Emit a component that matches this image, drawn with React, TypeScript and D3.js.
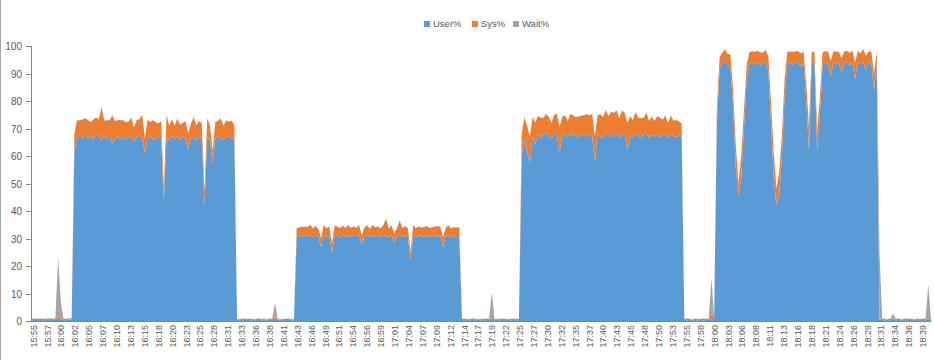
import React from "react";
import * as d3 from "d3";

const width = 934;
const height = 360;

const seriesKeys = ["user", "sys", "wait"];
const seriesNames = ["User%", "Sys%", "Wait%"];
const seriesColors = ["#5B9BD5", "#ED7D31", "#A5A5A5"];

const yTicks = [0, 10, 20, 30, 40, 50, 60, 70, 80, 90, 100];

const timeLabels = [
  "15:55", "15:57", "16:00", "16:02", "16:05", "16:07", "16:10", "16:13", "16:15", "16:18",
  "16:20", "16:23", "16:25", "16:28", "16:31", "16:33", "16:36", "16:38", "16:41", "16:43",
  "16:46", "16:49", "16:51", "16:54", "16:56", "16:59", "17:01", "17:04", "17:07", "17:09",
  "17:12", "17:14", "17:17", "17:19", "17:22", "17:25", "17:27", "17:30", "17:32", "17:35",
  "17:37", "17:40", "17:43", "17:45", "17:48", "17:50", "17:53", "17:55", "17:58", "18:00",
  "18:03", "18:06", "18:08", "18:11", "18:13", "18:16", "18:18", "18:21", "18:24", "18:26",
  "18:29", "18:31", "18:34", "18:36", "18:39",
];

// one sample every 30s, 15:55 -> 18:41
const userPct = [
  // idle
  0.4, 0.3, 0.5, 0.3, 0.4, 0.3, 0.6, 0.3, 0.4, 0.5, 1.0, 0.6, 0.4, 0.3, 0.5, 0.6,
  // run 1
  62.0, 66.8, 67.5, 66.2, 67.9, 66.4, 67.2, 65.8, 68.1, 66.9,
  65.7, 67.4, 66.1, 67.8, 64.2, 66.5, 67.3, 66.0, 67.6, 65.9,
  66.8, 67.1, 65.4, 66.9, 67.5, 66.2, 61.0, 66.7, 67.2, 65.8,
  66.4, 67.0, 66.3, 44.0, 66.9, 65.6, 67.4, 66.1, 66.8, 65.9,
  67.3, 66.2, 62.5, 66.7, 67.0, 65.8, 66.5, 67.2, 42.0, 66.9,
  65.7, 57.0, 66.4, 67.1, 66.3, 65.9, 66.8, 67.0, 66.2, 66.5,
  // idle
  0.3, 0.4, 0.3, 0.5, 0.4, 0.3, 0.4, 0.3, 0.5, 0.3, 0.4, 0.3, 0.4, 0.6, 0.8, 0.4, 0.3, 0.4, 0.3, 0.5, 0.4, 0.3,
  // run 2
  30.2, 31.1, 30.6, 31.4, 30.8, 31.2, 30.5, 31.0, 30.7, 27.0,
  31.3, 30.6, 31.0, 25.0, 30.9, 31.4, 30.4, 31.1, 30.8, 31.2,
  30.6, 31.0, 30.9, 31.3, 28.0, 30.7, 31.2, 30.5, 31.1, 30.8,
  31.0, 30.6, 31.3, 30.9, 30.4, 31.2, 28.5, 30.8, 31.1, 30.5,
  31.0, 30.7, 22.0, 31.2, 30.6, 30.9, 31.1, 30.4, 31.3, 30.8,
  30.6, 31.0, 30.7, 31.2, 27.0, 30.9, 31.1, 30.4, 30.6, 31.0,
  30.8,
  // idle
  0.4, 0.3, 0.4, 0.3, 0.5, 0.3, 0.4, 0.3, 0.4, 0.3, 0.5, 0.4, 0.3, 0.4, 0.3, 0.5, 0.3, 0.4, 0.3, 0.4, 0.3, 0.5,
  // run 3
  60.0, 66.5, 62.0, 57.0, 67.2, 64.0, 68.1, 66.3, 67.8, 68.5,
  67.0, 66.2, 68.3, 67.5, 61.0, 68.0, 67.3, 66.8, 68.4, 67.1,
  67.9, 66.5, 68.2, 67.6, 66.9, 68.0, 67.4, 58.0, 68.3, 67.0,
  66.6, 68.1, 67.5, 66.9, 67.8, 68.2, 66.4, 67.7, 68.0, 62.0,
  67.3, 66.8, 68.1, 67.5, 66.7, 67.9, 68.3, 66.5, 67.6, 67.1,
  68.0, 66.9, 67.4, 68.2, 66.6, 67.8, 67.2, 66.9, 67.5, 67.0,
  // idle
  0.4, 0.3, 0.5, 0.3, 0.4, 0.3, 0.4, 0.3, 0.4, 0.5, 0.6, 0.8,
  // run 4
  72.0, 91.5, 93.8, 94.2, 93.1, 92.0, 78.0, 56.0, 45.0, 52.0,
  70.0, 88.0, 93.6, 94.1, 93.3, 94.0, 92.8, 93.9, 94.2, 91.0,
  72.0, 52.0, 42.0, 46.0, 60.0, 82.0, 93.5, 94.1, 93.2, 93.9,
  94.3, 92.6, 93.8, 80.0, 62.0, 93.4, 94.0, 62.0, 75.0, 93.1,
  94.2, 93.6, 89.0, 94.0, 93.3, 94.1, 90.5, 93.7, 94.2, 92.8,
  93.9, 88.0, 94.0, 93.4, 94.3, 91.5, 93.8, 94.0, 84.0, 93.5,
  // idle
  0.5, 0.4, 0.3, 0.4, 0.3, 0.5, 0.3, 0.4, 0.3, 0.4, 0.3, 0.5, 0.4, 0.3, 0.4, 0.3, 0.4, 0.3, 0.6, 0.3,
];

const sysPct = [
  0.3, 0.4, 0.3, 0.5, 0.3, 0.4, 0.3, 0.4, 0.3, 0.4, 0.8, 0.5, 0.3, 0.4, 0.3, 0.4,
  6.0, 6.2, 5.4, 7.1, 5.8, 6.6, 5.1, 7.4, 5.9, 6.3,
  12.0, 5.5, 6.8, 5.2, 10.5, 6.1, 5.7, 7.0, 5.3, 6.4,
  5.6, 6.9, 5.0, 6.2, 5.8, 8.8, 5.4, 6.5, 5.1, 7.2,
  5.9, 4.8, 6.3, 4.5, 8.0, 5.2, 6.0, 4.9, 6.7, 5.5,
  4.8, 6.4, 5.7, 5.0, 7.1, 5.3, 6.2, 4.7, 5.0, 6.8,
  5.4, 4.9, 6.0, 5.6, 7.3, 5.0, 6.1, 5.4, 6.6, 4.8,
  0.3, 0.2, 0.4, 0.3, 0.3, 0.4, 0.2, 0.3, 0.4, 0.3, 0.3, 0.2, 0.4, 0.3, 0.6, 0.3, 0.2, 0.3, 0.4, 0.3, 0.2, 0.3,
  3.4, 3.0, 3.6, 2.9, 3.3, 3.8, 3.1, 3.5, 2.8, 3.2,
  3.6, 3.0, 3.4, 3.1, 3.7, 2.9, 3.3, 3.5, 3.0, 3.6,
  3.2, 3.4, 2.9, 3.7, 3.1, 3.3, 3.5, 3.0, 3.8, 3.2,
  3.4, 3.0, 3.6, 6.2, 3.1, 3.5, 3.3, 2.9, 5.4, 3.2,
  3.5, 3.0, 3.3, 3.6, 3.1, 3.4, 2.9, 3.7, 3.2, 3.0,
  3.5, 3.3, 3.8, 3.1, 3.4, 3.0, 3.6, 3.2, 3.5, 2.9,
  3.3,
  0.3, 0.4, 0.2, 0.3, 0.4, 0.3, 0.2, 0.3, 0.3, 0.4, 0.3, 0.6, 0.3, 0.2, 0.4, 0.3, 0.3, 0.2, 0.4, 0.3, 0.3, 0.4,
  8.0, 7.5, 9.0, 10.0, 6.8, 8.2, 6.4, 7.6, 5.9, 6.8,
  7.2, 5.8, 6.6, 7.9, 9.5, 6.3, 7.4, 5.9, 6.9, 7.6,
  6.2, 7.8, 6.5, 7.1, 8.3, 6.7, 7.9, 9.0, 6.4, 8.1,
  7.5, 8.6, 7.0, 9.2, 7.8, 8.4, 7.3, 8.8, 7.6, 10.0,
  7.2, 6.1, 7.9, 6.4, 7.0, 5.9, 7.5, 6.2, 6.8, 5.6,
  6.4, 7.1, 5.8, 6.5, 5.3, 6.9, 5.6, 6.2, 5.0, 4.8,
  0.3, 0.4, 0.3, 0.2, 0.4, 0.3, 0.3, 0.4, 0.3, 0.3, 2.0, 0.4,
  5.0, 4.2, 3.8, 4.5, 4.0, 4.8, 6.0, 7.5, 5.0, 8.0,
  6.5, 5.0, 4.1, 3.9, 4.6, 4.2, 4.8, 3.7, 4.3, 5.2,
  7.0, 9.0, 6.0, 8.0, 7.5, 6.0, 4.4, 3.8, 4.6, 4.1,
  3.9, 4.7, 4.2, 6.0, 8.5, 4.3, 4.0, 7.0, 6.0, 4.5,
  3.9, 4.4, 5.5, 4.1, 4.6, 3.8, 5.0, 4.2, 4.0, 4.7,
  4.3, 6.0, 4.1, 3.9, 4.5, 5.0, 4.2, 3.8, 6.0, 4.4,
  0.3, 0.4, 0.3, 0.2, 0.4, 0.3, 0.3, 0.4, 0.2, 0.3, 0.4, 0.3, 0.3, 0.2, 0.4, 0.3, 0.3, 0.4, 0.8, 0.3,
];

const waitPct = [
  0.1, 0.1, 0.2, 0.1, 0.1, 0.1, 0.1, 0.2, 0.1, 0.2, 21.5, 5.8, 0.1, 0.1, 0.2, 0.1,
  0.1, 0.1, 0.1, 0.1, 0.1, 0.1, 0.2, 0.1, 0.1, 0.1,
  0.1, 0.1, 0.1, 0.1, 0.1, 0.1, 0.1, 0.1, 0.2, 0.1,
  0.1, 0.1, 0.1, 0.1, 0.1, 0.1, 0.1, 0.1, 0.1, 0.1,
  0.1, 0.1, 0.1, 0.1, 0.1, 0.2, 0.1, 0.1, 0.1, 0.1,
  0.1, 0.1, 0.1, 0.1, 0.1, 0.1, 0.1, 0.1, 0.1, 0.1,
  0.1, 0.1, 0.1, 0.2, 0.1, 0.1, 0.1, 0.1, 0.1, 0.1,
  0.1, 0.1, 0.2, 0.1, 0.1, 0.2, 0.1, 0.1, 0.2, 0.1, 0.1, 0.2, 0.1, 0.1, 5.2, 0.1, 0.2, 0.1, 0.1, 0.2, 0.1, 0.1,
  0.1, 0.1, 0.1, 0.1, 0.1, 0.1, 0.1, 0.1, 0.1, 0.1,
  0.1, 0.1, 0.1, 0.1, 0.1, 0.1, 0.1, 0.1, 0.1, 0.1,
  0.1, 0.1, 0.1, 0.1, 0.1, 0.1, 0.1, 0.1, 0.1, 0.1,
  0.1, 0.1, 0.1, 0.1, 0.1, 0.1, 0.1, 0.1, 0.1, 0.1,
  0.1, 0.1, 0.1, 0.1, 0.1, 0.1, 0.1, 0.1, 0.1, 0.1,
  0.1, 0.1, 0.1, 0.1, 0.1, 0.1, 0.1, 0.1, 0.1, 0.1,
  0.1,
  0.1, 0.2, 0.1, 0.1, 0.2, 0.1, 0.1, 0.2, 0.1, 0.1, 0.2, 9.5, 0.1, 0.2, 0.1, 0.1, 0.2, 0.1, 0.1, 0.2, 0.1, 0.1,
  0.1, 0.1, 0.2, 0.1, 0.1, 0.1, 0.1, 0.1, 0.1, 0.1,
  0.1, 0.1, 0.1, 0.1, 0.2, 0.1, 0.1, 0.1, 0.1, 0.1,
  0.1, 0.1, 0.1, 0.1, 0.1, 0.1, 0.1, 0.2, 0.1, 0.1,
  0.1, 0.1, 0.1, 0.1, 0.1, 0.1, 0.1, 0.1, 0.1, 0.2,
  0.1, 0.1, 0.1, 0.1, 0.1, 0.1, 0.1, 0.1, 0.1, 0.1,
  0.1, 0.1, 0.1, 0.1, 0.1, 0.1, 0.1, 0.1, 0.1, 0.1,
  0.1, 0.2, 0.1, 0.1, 0.2, 0.1, 0.1, 0.2, 0.1, 0.1, 13.0, 0.2,
  0.1, 0.1, 0.1, 0.1, 0.1, 0.1, 0.3, 0.4, 0.3, 0.3,
  0.2, 0.1, 0.1, 0.1, 0.1, 0.1, 0.1, 0.1, 0.1, 0.1,
  0.3, 0.4, 0.4, 0.3, 0.3, 0.2, 0.1, 0.1, 0.1, 0.1,
  0.1, 0.1, 0.1, 0.2, 0.3, 0.1, 0.1, 0.3, 0.2, 0.1,
  0.1, 0.1, 0.2, 0.1, 0.1, 0.1, 0.2, 0.1, 0.1, 0.1,
  0.1, 0.2, 0.1, 0.1, 0.1, 0.1, 0.1, 0.1, 0.2, 0.1,
  24.0, 0.1, 0.2, 0.1, 0.1, 1.8, 0.1, 0.2, 0.1, 0.1, 0.2, 0.1, 0.1, 0.2, 0.1, 0.1, 0.2, 0.1, 12.0, 0.1,
];

const plotLeft = 31;
const plotRight = 931;
const plotTop = 46;
const plotBottom = 321;

export default function App() {
  const rows = userPct.map((u, i) => ({
    i,
    user: u,
    sys: sysPct[i] ?? 0,
    wait: waitPct[i] ?? 0,
  }));

  const x = d3.scaleLinear().domain([0, rows.length - 1]).range([plotLeft, plotRight]);
  const y = d3.scaleLinear().domain([0, 100]).range([plotBottom, plotTop]);
  const xLabel = d3.scalePoint<string>().domain(timeLabels).range([33.5, 923]);

  const stacked = d3.stack<any>().keys(seriesKeys)(rows);
  const area = d3
    .area<any>()
    .x((d) => x(d.data.i))
    .y0((d) => y(d[0]))
    .y1((d) => y(d[1]));

  const legendX = [424, 472, 513];

  return (
    <svg
      width={width}
      height={height}
      style={{ position: "absolute", left: 0, top: 0, background: "#fff" }}
      fontFamily="'Liberation Sans', Arial, sans-serif"
    >
      <line x1={0.5} x2={0.5} y1={0} y2={height} stroke="#a6a6a6" />

      {stacked.map((s, k) => (
        <path key={s.key} d={area(s) ?? ""} fill={seriesColors[k]} />
      ))}

      {/* y axis */}
      <line x1={plotLeft + 0.5} x2={plotLeft + 0.5} y1={plotTop} y2={plotBottom} stroke="#868686" />
      {yTicks.map((t) => (
        <g key={t} transform={`translate(0,${Math.round(y(t)) + 0.5})`}>
          <line x1={26} x2={plotLeft} stroke="#868686" />
          <text x={22} dy="0.35em" textAnchor="end" fontSize={10} fill="#595959">
            {t}
          </text>
        </g>
      ))}

      {/* x axis */}
      <line x1={plotLeft} x2={plotRight} y1={plotBottom + 0.5} y2={plotBottom + 0.5} stroke="#868686" />
      {timeLabels.map((l) => (
        <text
          key={l}
          transform={`translate(${xLabel(l)},${plotBottom + 4}) rotate(-90)`}
          textAnchor="end"
          dy="0.35em"
          fontSize={9}
          fill="#595959"
        >
          {l}
        </text>
      ))}

      {/* legend */}
      {seriesNames.map((n, k) => (
        <g key={n} transform={`translate(${legendX[k]},24)`}>
          <rect x={0} y={-3} width={6} height={6} fill={seriesColors[k]} />
          <text x={9} dy="0.35em" fontSize={9.5} fill="#595959">
            {n}
          </text>
        </g>
      ))}
    </svg>
  );
}
